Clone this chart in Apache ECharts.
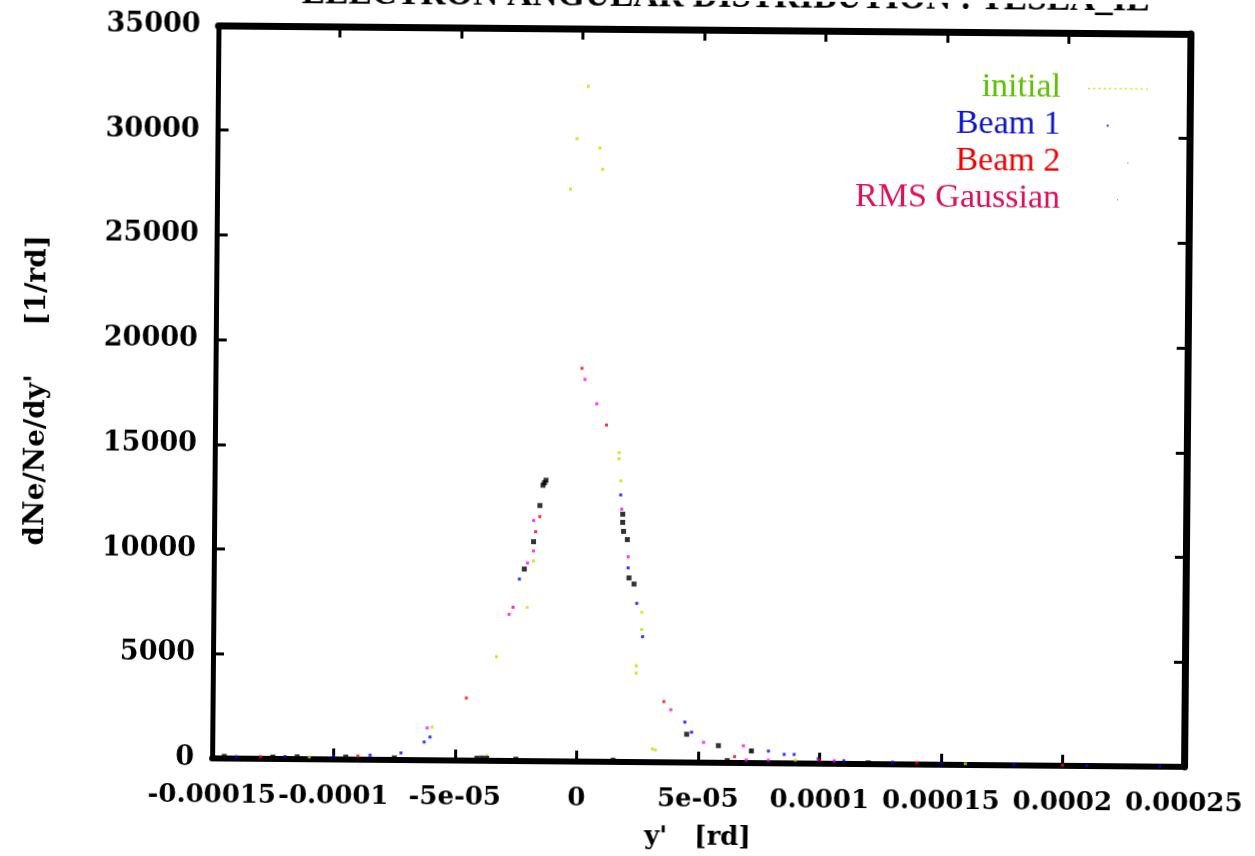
<!DOCTYPE html>
<html>
<head>
<meta charset="utf-8">
<script src="https://cdn.jsdelivr.net/npm/echarts@6/dist/echarts.min.js"></script>
<style>
    html, body { margin: 0; padding: 0; background: #fff; overflow: hidden; }
    #chart { width: 1255px; height: 856px; transform: rotate(0.5deg); }
</style>
</head>
<body>
<div id="chart"></div>
<script>
var titleText = 'ELECTRON ANGULAR DISTRIBUTION : TESLA_IL';
var xName = "y'   [rd]";
var yName = "dNe/Ne/dy'     [1/rd]";
var xTickLabels = ['-0.00015', '-0.0001', '-5e-05', '0', '5e-05', '0.0001', '0.00015', '0.0002', '0.00025'];
var yTickLabels = ['0', '5000', '10000', '15000', '20000', '25000', '30000', '35000'];
var seriesNames = ['initial', 'Beam 1', 'Beam 2', 'RMS Gaussian'];

// [y', dNe/Ne/dy']
var initialPts = [
    [2.46e-6, 32250], [-2.05e-6, 29740], [7.39e-6, 29310], [8.62e-6, 28290], [-4.52e-6, 27330],
    [1.64e-5, 14770], [1.64e-5, 14480], [1.72e-5, 13420], [2.63e-5, 7150], [2.63e-5, 6330],
    [2.42e-5, 4590], [2.42e-5, 4250], [3.12e-5, 630], [3.24e-5, 580], [-2.09e-5, 7340],
    [-1.85e-5, 9560], [-3.33e-5, 4970], [-5.96e-5, 1590], [-2.67e-5, 7340], [-3.7e-5, 240],
    [-1.1e-4, 110], [9.0e-5, 160], [1.6e-4, 60]
];
var beam1Pts = [
    [-7.23e-5, 340], [-6.04e-5, 1110], [-2.42e-5, 8690], [1.72e-5, 12750], [2.05e-5, 9270],
    [4.72e-5, 1450], [7.89e-5, 580], [8.54e-5, 430], [8.95e-5, 430], [9.94e-5, 240],
    [2.42e-5, 7580], [2.67e-5, 5990], [4.44e-5, 1930], [-6.28e-5, 870],
    [-1.4e-4, 90], [-1.2e-4, 120], [-1.0e-4, 150], [-8.5e-5, 220], [1.1e-4, 150],
    [1.3e-4, 100], [1.5e-4, 60], [1.8e-4, 40], [2.1e-4, 30], [2.4e-4, 20]
];
var beam2Pts = [
    [8.2e-7, 18780], [1.11e-5, 16080], [-1.6e-5, 11680], [-1.77e-5, 10960], [-4.56e-5, 2990],
    [3.57e-5, 2900], [-1.3e-4, 100], [-9.0e-5, 180], [6.5e-5, 300], [1.0e-4, 180],
    [1.4e-4, 90], [2.0e-4, 40]
];
var gaussPts = [
    [2.05e-6, 18250], [6.98e-6, 17090], [1.77e-5, 12070], [2.05e-5, 9800], [-1.85e-5, 11490],
    [-1.85e-5, 10040], [-2.09e-5, 9460], [-2.83e-5, 7000], [-2.67e-5, 7340], [-6.16e-5, 1545],
    [3.86e-5, 2510], [5.22e-5, 970], [6.86e-5, 820], [7.19e-5, 580], [7.89e-5, 145],
    [1.06e-4, 145], [6.98e-5, 145]
];
// spots where the curves lie on top of each other and print dark
var overlapPts = [
    [-1.36e-5, 13420], [-1.42e-5, 13300], [-1.48e-5, 13180], [-1.6e-5, 12210], [-1.85e-5, 10480],
    [-2.22e-5, 9170], [1.81e-5, 11830], [1.81e-5, 11440], [1.85e-5, 11010], [2.01e-5, 10620],
    [2.09e-5, 8790], [2.3e-5, 8500], [4.52e-5, 1350], [5.83e-5, 820], [7.19e-5, 580],
    [-4.1e-5, 120], [-3.9e-5, 130], [-3.7e-5, 120], [-1.25e-4, 90], [6.2e-5, 110],
    [-1.45e-4, 100], [-1.15e-4, 110], [-9.5e-5, 120], [-7.5e-5, 100], [-2.5e-5, 90],
    [1.5e-5, 80], [1.2e-4, 60]
];

var X_MIN = -0.00015, X_MAX = 0.00025, X_STEP = 0.00005;
var Y_MIN = 0, Y_MAX = 35000, Y_STEP = 5000;

var serif = 'Liberation Serif';
var wideSerif = 'DejaVu Serif';
var colors = ['#c4e000', '#0000ff', '#ff0000', '#ff00ff'];
var legendText = ['#5fc000', '#0a14c8', '#f00000', '#e0105a'];
var dotLine = 'path://';
for (var k = 0; k < 60; k += 5) dotLine += 'M' + k + ',0h2v1.5h-2z';
var legendIcons = [
    dotLine,
    'path://M0,0h60v0.01h-60zM19,-0.5h2v2h-2z',
    'path://M0,0h60v0.01h-60zM40,0h1v1h-1z',
    'path://M0,0h60v0.01h-60zM30,0h1v1h-1z'
];

function xLabel(v) {
    var i = Math.round((v - X_MIN) / X_STEP);
    return xTickLabels[i] || '';
}
function yLabel(v) {
    var i = Math.round((v - Y_MIN) / Y_STEP);
    return yTickLabels[i] || '';
}

function frameX(pos, w, show) {
    return {
        type: 'value', position: pos, min: X_MIN, max: X_MAX, interval: X_STEP,
        axisLine: { show: true, onZero: false, lineStyle: { color: '#000', width: w } },
        axisTick: { show: true, inside: true, length: 11, lineStyle: { color: '#000', width: 3 } },
        axisLabel: {
            show: show, margin: 24, formatter: xLabel, color: '#000',
            fontFamily: wideSerif, fontWeight: 'bold', fontSize: 26
        },
        splitLine: { show: false }
    };
}
function frameY(pos, w, show) {
    return {
        type: 'value', position: pos, min: Y_MIN, max: Y_MAX, interval: Y_STEP,
        axisLine: { show: true, onZero: false, lineStyle: { color: '#000', width: w } },
        axisTick: { show: true, inside: true, length: 11, lineStyle: { color: '#000', width: 3 } },
        axisLabel: {
            show: show, margin: 18, formatter: yLabel, color: '#000',
            fontFamily: wideSerif, fontWeight: 'bold', fontSize: 27
        },
        splitLine: { show: false }
    };
}

var xBottom = frameX('bottom', 6, true);
xBottom.name = xName;
xBottom.nameLocation = 'middle';
xBottom.nameGap = 62;
xBottom.nameTextStyle = { color: '#000', fontFamily: wideSerif, fontWeight: 'bold', fontSize: 26 };

var yLeft = frameY('left', 5, true);
yLeft.name = yName;
yLeft.nameLocation = 'middle';
yLeft.nameGap = 164;
yLeft.nameTextStyle = { color: '#000', fontFamily: wideSerif, fontWeight: 'bold', fontSize: 28 };

function dots(name, pts, color, size) {
    return {
        name: name, type: 'scatter', data: pts, symbol: 'rect', symbolSize: size,
        itemStyle: { color: color }, silent: true, z: 3
    };
}

var chart = echarts.init(document.getElementById('chart'), null, { renderer: 'canvas' });
var option = {
    animation: false,
    backgroundColor: '#fff',
    graphic: [{
        type: 'text', left: 298, top: -21,
        style: { text: titleText, fill: '#000', font: 'bold 35px "Liberation Serif"' }
    }],
    grid: { left: 215, right: 68, top: 29, bottom: 94, containLabel: false },
    legend: {
        orient: 'vertical', align: 'right', right: 105, top: 61,
        itemWidth: 60, itemHeight: 3, itemGap: 0, selectedMode: false,
        textStyle: { fontFamily: serif, fontSize: 34, lineHeight: 37, padding: [0, 22, 0, 0] },
        data: seriesNames.map(function (n, i) {
            return { name: n, icon: legendIcons[i], textStyle: { color: legendText[i] } };
        })
    },
    xAxis: [xBottom, frameX('top', 7, false)],
    yAxis: [yLeft, frameY('right', 7, false)],
    series: [
        dots(seriesNames[0], initialPts, colors[0], 3),
        dots(seriesNames[1], beam1Pts, colors[1], 3),
        dots(seriesNames[2], beam2Pts, colors[2], 3),
        dots(seriesNames[3], gaussPts, colors[3], 3),
        dots('overlap', overlapPts, '#000', 5)
    ]
};
chart.setOption(option);
window.addEventListener('resize', chart.resize);
</script>
</body>
</html>
